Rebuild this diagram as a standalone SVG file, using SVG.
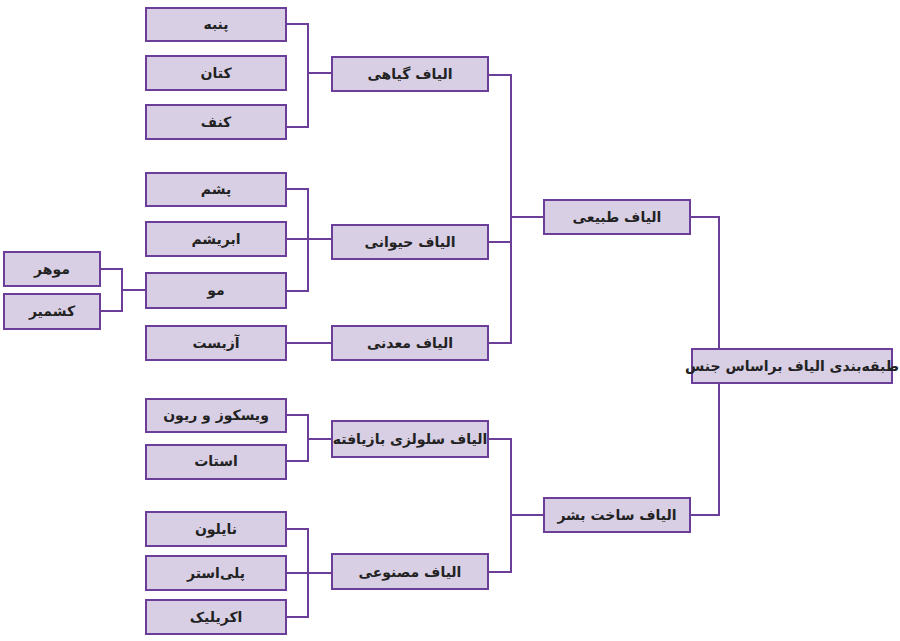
<svg xmlns="http://www.w3.org/2000/svg" width="900" height="641" viewBox="0 0 900 641">
<style>
rect{fill:#d8cfe5;stroke:#6b3f99;stroke-width:2}
text{font-family:"DejaVu Sans","Noto Sans",sans-serif;font-size:14px;font-weight:bold;fill:#222;text-anchor:middle;dominant-baseline:central}
#connectors path{fill:none;stroke:#6b3f99;stroke-width:2}
</style>
<rect x="0" y="0" width="900" height="641" style="fill:#fff;stroke:none"/>
<g id="connectors">
<path d="M286 24H308V127H286M308 73H332"/>
<path d="M286 189H308V291H286M286 239H332"/>
<path d="M100 269H122V311H100M122 290H146"/>
<path d="M286 343H332"/>
<path d="M286 415H308V461H286M308 439H332"/>
<path d="M286 529H308V617H286M286 573H332"/>
<path d="M488 75H511V343H488M488 242H511M511 217H544"/>
<path d="M488 439H511V572H488M511 515H544"/>
<path d="M690 217H719V515H690"/>
</g>
<g id="n1"><rect x="146" y="8" width="140" height="33"/><text x="216" y="24">پنبه</text></g>
<g id="n2"><rect x="146" y="56" width="140" height="34"/><text x="216" y="73">کتان</text></g>
<g id="n3"><rect x="146" y="105" width="140" height="34"/><text x="216" y="122">کنف</text></g>
<g id="n4"><rect x="146" y="173" width="140" height="33"/><text x="216" y="189">پشم</text></g>
<g id="n5"><rect x="146" y="222" width="140" height="34"/><text x="216" y="239">ابریشم</text></g>
<g id="n6"><rect x="146" y="273" width="140" height="35"/><text x="216" y="290">مو</text></g>
<g id="n7"><rect x="4" y="252" width="96" height="34"/><text x="52" y="269">موهر</text></g>
<g id="n8"><rect x="4" y="294" width="96" height="35"/><text x="52" y="311">کشمیر</text></g>
<g id="n9"><rect x="146" y="326" width="140" height="34"/><text x="216" y="343">آزبست</text></g>
<g id="n10"><rect x="146" y="399" width="140" height="33"/><text x="216" y="415">ویسکوز و ریون</text></g>
<g id="n11"><rect x="146" y="445" width="140" height="34"/><text x="216" y="461">استات</text></g>
<g id="n12"><rect x="146" y="512" width="140" height="34"/><text x="216" y="529">نایلون</text></g>
<g id="n13"><rect x="146" y="556" width="140" height="34"/><text x="216" y="573">پلی‌استر</text></g>
<g id="n14"><rect x="146" y="600" width="140" height="34"/><text x="216" y="617">اکریلیک</text></g>
<g id="m1"><rect x="332" y="57" width="156" height="34"/><text x="410" y="74">الیاف گیاهی</text></g>
<g id="m2"><rect x="332" y="225" width="156" height="34"/><text x="410" y="242">الیاف حیوانی</text></g>
<g id="m3"><rect x="332" y="326" width="156" height="34"/><text x="410" y="343">الیاف معدنی</text></g>
<g id="m4"><rect x="332" y="421" width="156" height="36"/><text x="410" y="439">الیاف سلولزی بازیافته</text></g>
<g id="m5"><rect x="332" y="554" width="156" height="35"/><text x="410" y="572">الیاف مصنوعی</text></g>
<g id="t1"><rect x="544" y="200" width="146" height="34"/><text x="617" y="217">الیاف طبیعی</text></g>
<g id="t2"><rect x="544" y="498" width="146" height="34"/><text x="617" y="515">الیاف ساخت بشر</text></g>
<g id="root"><rect x="692" y="349" width="200" height="34"/><text x="792" y="366">طبقه‌بندی الیاف براساس جنس</text></g>
</svg>
